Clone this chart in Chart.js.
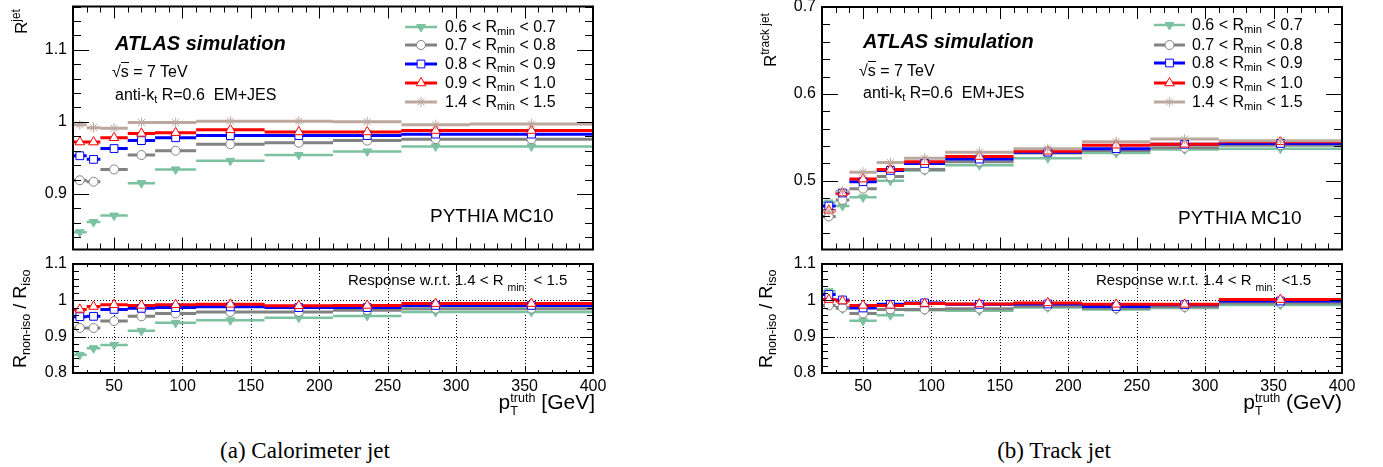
<!DOCTYPE html>
<html>
<head>
<meta charset="utf-8">
<script src="https://cdn.jsdelivr.net/npm/chart.js@4.4.0/dist/chart.umd.min.js"></script>
<style>
body { margin: 0; background: #fff; width: 1383px; height: 467px; position: relative; overflow: hidden; font-family: "Liberation Sans", Arial, sans-serif; }
canvas { position: absolute; }
.t { position: absolute; white-space: nowrap; color: #000; line-height: 1; }
.sb { font-size: 70%; position: relative; top: 0.3em; }
.sp { font-size: 70%; position: relative; top: -0.55em; }
.rot { transform-origin: 0 0; transform: rotate(-90deg); }
.ss { display: inline-block; font-size: 60%; line-height: 1; vertical-align: -6px; }
.ss span { display: block; }
.cap { font-family: "Liberation Serif", "Times New Roman", serif; font-size: 23px; transform: translateX(-50%); }
</style>
</head>
<body>
<canvas id="caloResp" width="620" height="256" style="left:0;top:0"></canvas>
<canvas id="caloRatio" width="620" height="150" style="left:0;top:250px"></canvas>
<canvas id="trackResp" width="683" height="266" style="left:700px;top:-10px"></canvas>
<canvas id="trackRatio" width="683" height="150" style="left:700px;top:250px"></canvas>
<div id="labels"></div>
<script>
// bins in pT truth
const binLo = [20, 30, 40, 60, 80, 110, 160, 210, 260, 310];
const binHi = [30, 40, 60, 80, 110, 160, 210, 260, 310, 400];
const binMid = [25, 35, 50, 70, 95, 135, 185, 235, 285, 355];

// R_min ranges (legend)
const rangeLo = ['0.6', '0.7', '0.8', '0.9', '1.4'];
const rangeHi = ['0.7', '0.8', '0.9', '1.0', '1.5'];

// (a) calorimeter jet response
const caloResp06 = [0.847, 0.861, 0.870, 0.915, 0.934, 0.946, 0.954, 0.959, 0.966, 0.966];
const caloResp07 = [0.919, 0.917, 0.934, 0.954, 0.960, 0.969, 0.971, 0.974, 0.976, 0.976];
const caloResp08 = [0.953, 0.948, 0.963, 0.974, 0.978, 0.981, 0.981, 0.981, 0.983, 0.983];
const caloResp09 = [0.972, 0.972, 0.978, 0.984, 0.985, 0.989, 0.986, 0.986, 0.988, 0.988];
const caloResp14 = [0.996, 0.992, 0.991, 0.999, 0.999, 1.001, 1.001, 1.000, 0.996, 0.997];

const caloRatio06 = [0.850, 0.868, 0.877, 0.916, 0.938, 0.945, 0.952, 0.957, 0.968, 0.968];
const caloRatio07 = [0.924, 0.924, 0.943, 0.956, 0.964, 0.968, 0.968, 0.973, 0.977, 0.977];
const caloRatio08 = [0.955, 0.956, 0.975, 0.978, 0.980, 0.982, 0.980, 0.980, 0.986, 0.986];
const caloRatio09 = [0.975, 0.983, 0.988, 0.986, 0.988, 0.989, 0.985, 0.986, 0.991, 0.991];

// (b) track jet response
const trackResp06 = [0.475, 0.471, 0.481, 0.500, 0.512, 0.518, 0.526, 0.532, 0.536, 0.537];
const trackResp07 = [0.459, 0.478, 0.491, 0.505, 0.513, 0.522, 0.532, 0.535, 0.538, 0.541];
const trackResp08 = [0.471, 0.486, 0.499, 0.512, 0.520, 0.525, 0.533, 0.537, 0.542, 0.543];
const trackResp09 = [0.466, 0.486, 0.502, 0.513, 0.522, 0.528, 0.534, 0.541, 0.542, 0.545];
const trackResp14 = [0.465, 0.488, 0.510, 0.521, 0.526, 0.533, 0.537, 0.545, 0.548, 0.546];

const trackRatio06 = [1.025, 0.977, 0.944, 0.959, 0.973, 0.971, 0.980, 0.975, 0.979, 0.987];
const trackRatio07 = [0.986, 0.980, 0.964, 0.975, 0.975, 0.977, 0.984, 0.978, 0.982, 0.993];
const trackRatio08 = [1.016, 1.001, 0.979, 0.989, 0.993, 0.989, 0.990, 0.983, 0.988, 0.998];
const trackRatio09 = [1.002, 0.998, 0.986, 0.986, 0.991, 0.990, 0.993, 0.989, 0.989, 1.002];

// tick labels
const xTicks = [50, 100, 150, 200, 250, 300, 350, 400];
const caloRespTicks = [0.9, 1, 1.1];
const trackRespTicks = [0.5, 0.6, 0.7];
const ratioTicks = [0.8, 0.9, 1, 1.1];

Chart.defaults.font.family = '"Liberation Sans", Arial, sans-serif';
Chart.defaults.font.size = 16;
Chart.defaults.color = '#000';

const styles = [
    { color: 'rgb(124,193,160)', point: 'triangle', rot: 180, filled: true, r: 5, lw: 2.5 },
    { color: 'rgb(130,130,130)', point: 'circle', rot: 0, filled: false, r: 4.5, lw: 3 },
    { color: 'rgb(0,0,255)', point: 'rect', rot: 0, filled: false, r: 5.5, lw: 3 },
    { color: 'rgb(255,0,0)', point: 'triangle', rot: 0, filled: false, r: 5.5, lw: 3 },
    { color: 'rgb(188,168,158)', point: 'star', rot: 0, filled: false, r: 5, lw: 3 }
];

function makeSets(seriesList) {
    var sets = [];
    seriesList.forEach(function (vals, k) {
        var st = styles[k];
        var pts = [];
        vals.forEach(function (v, i) {
            pts.push({ x: binLo[i], y: v }, { x: binHi[i], y: v }, { x: binHi[i], y: null });
        });
        sets.push({
            data: pts, borderColor: st.color, borderWidth: st.lw, pointRadius: 0,
            borderCapStyle: 'butt', tension: 0, order: 20 - k
        });
        sets.push({
            data: vals.map(function (v, i) { return { x: binMid[i], y: v }; }),
            showLine: false, pointStyle: st.point, rotation: st.rot, pointRadius: st.r,
            pointBorderWidth: 1, pointBorderColor: st.color,
            pointBackgroundColor: st.filled ? st.color : '#fff', order: 10 - k
        });
    });
    return sets;
}

// ROOT-like frame: inward ticks on all sides, optional dotted grid, legend samples
const rootFrame = {
    id: 'rootFrame',
    beforeDatasetsDraw: function (chart, args, o) {
        if (!o.grid) return;
        var ctx = chart.ctx, a = chart.chartArea, x = chart.scales.x, y = chart.scales.y;
        ctx.save();
        ctx.strokeStyle = '#000';
        ctx.lineWidth = 1;
        ctx.setLineDash([1, 2]);
        ctx.beginPath();
        xTicks.forEach(function (v) {
            if (v >= 400) return;
            var px = Math.round(x.getPixelForValue(v)) + 0.5;
            ctx.moveTo(px, a.top); ctx.lineTo(px, a.bottom);
        });
        o.gridY.forEach(function (v) {
            var py = Math.round(y.getPixelForValue(v)) + 0.5;
            ctx.moveTo(a.left, py); ctx.lineTo(a.right, py);
        });
        ctx.stroke();
        ctx.restore();
    },
    afterDraw: function (chart, args, o) {
        var ctx = chart.ctx, a = chart.chartArea, x = chart.scales.x, y = chart.scales.y;
        ctx.save();
        ctx.strokeStyle = '#000';
        ctx.lineWidth = 1;
        ctx.beginPath();
        for (var v = 20; v <= 400; v += 10) {
            var px = Math.round(x.getPixelForValue(v)) + 0.5;
            var len = v % 50 === 0 ? o.xMaj : o.xMin;
            ctx.moveTo(px, a.bottom); ctx.lineTo(px, a.bottom - len);
            ctx.moveTo(px, a.top); ctx.lineTo(px, a.top + len);
        }
        var n0 = Math.ceil(y.min / o.yStep - 1e-6), n1 = Math.floor(y.max / o.yStep + 1e-6);
        for (var n = n0; n <= n1; n++) {
            var py = Math.round(y.getPixelForValue(n * o.yStep)) + 0.5;
            var ylen = n % 5 === 0 ? o.yMaj : o.yMin;
            ctx.moveTo(a.left, py); ctx.lineTo(a.left + ylen, py);
            ctx.moveTo(a.right, py); ctx.lineTo(a.right - ylen, py);
        }
        ctx.stroke();
        ctx.lineWidth = 2;
        ctx.strokeRect(a.left, a.top, a.right - a.left, a.bottom - a.top);

        if (o.legend) {
            var lg = o.legend;
            styles.forEach(function (st, k) {
                var ly = lg.ys[k];
                ctx.strokeStyle = st.color;
                ctx.lineWidth = st.lw;
                ctx.beginPath();
                ctx.moveTo(lg.x1, ly); ctx.lineTo(lg.x2, ly);
                ctx.stroke();
                ctx.fillStyle = st.filled ? st.color : '#fff';
                ctx.lineWidth = 1;
                Chart.helpers.drawPoint(ctx, { pointStyle: st.point, rotation: st.rot, radius: st.r, borderWidth: 1 },
                    (lg.x1 + lg.x2) / 2, ly);
            });
        }
        ctx.restore();
    }
};

function fmt(v) { return String(+v.toFixed(2)); }

function makeChart(id, sets, cfg) {
    return new Chart(document.getElementById(id).getContext('2d'), {
        type: 'line',
        data: { datasets: sets },
        options: {
            responsive: false,
            animation: false,
            events: [],
            layout: { padding: cfg.pad },
            plugins: { legend: { display: false }, tooltip: { enabled: false }, rootFrame: cfg.frame },
            scales: {
                x: {
                    type: 'linear', min: 20, max: 400,
                    display: cfg.xLabels,
                    grid: { display: false, drawTicks: false },
                    border: { display: false },
                    ticks: { padding: 4, maxRotation: 0, callback: fmt },
                    afterBuildTicks: function (s) { s.ticks = xTicks.map(function (v) { return { value: v }; }); },
                    afterFit: function (s) { if (cfg.xLabels) s.height = 27; }
                },
                y: {
                    type: 'linear', min: cfg.yMin, max: cfg.yMax,
                    grid: { display: false, drawTicks: false },
                    border: { display: false },
                    ticks: { padding: 6, callback: fmt },
                    afterBuildTicks: function (s) { s.ticks = cfg.yTicks.map(function (v) { return { value: v }; }); },
                    afterFit: function (s) { s.width = cfg.yWidth; s.paddingTop = 0; s.paddingBottom = 0; }
                }
            }
        },
        plugins: [rootFrame]
    });
}

makeChart('caloResp', makeSets([caloResp06, caloResp07, caloResp08, caloResp09, caloResp14]), {
    pad: { left: 0, top: 6, right: 27, bottom: 6 }, xLabels: false, yMin: 0.823, yMax: 1.16,
    yTicks: caloRespTicks, yWidth: 73,
    frame: { xMaj: 12, xMin: 6, yMaj: 16, yMin: 8, yStep: 0.02,
        legend: { x1: 405, x2: 437, ys: [27, 45, 64, 83, 102] } }
});
makeChart('caloRatio', makeSets([caloRatio06, caloRatio07, caloRatio08, caloRatio09]), {
    pad: { left: 0, top: 14, right: 27, bottom: 0 }, xLabels: true, yMin: 0.8, yMax: 1.1,
    yTicks: ratioTicks, yWidth: 73,
    frame: { xMaj: 6, xMin: 3, yMaj: 12, yMin: 6, yStep: 0.02, grid: true, gridY: [0.9, 1.0] }
});
makeChart('trackResp', makeSets([trackResp06, trackResp07, trackResp08, trackResp09, trackResp14]), {
    pad: { left: 0, top: 17, right: 41, bottom: 6 }, xLabels: false, yMin: 0.421, yMax: 0.7,
    yTicks: trackRespTicks, yWidth: 122,
    frame: { xMaj: 12, xMin: 6, yMaj: 16, yMin: 8, yStep: 0.02,
        legend: { x1: 454, x2: 485, ys: [35, 55, 73, 93, 112] } }
});
makeChart('trackRatio', makeSets([trackRatio06, trackRatio07, trackRatio08, trackRatio09]), {
    pad: { left: 0, top: 14, right: 41, bottom: 0 }, xLabels: true, yMin: 0.8, yMax: 1.1,
    yTicks: ratioTicks, yWidth: 122,
    frame: { xMaj: 6, xMin: 3, yMaj: 12, yMin: 6, yStep: 0.02, grid: true, gridY: [0.9, 1.0] }
});

// text overlays
var html = '';
function put(left, top, size, inner, extra) {
    html += '<div class="t ' + (extra || '') + '" style="left:' + left + 'px;top:' + top + 'px;font-size:' + size + 'px">' + inner + '</div>';
}
var rmin = 'R<span class="sb">min</span>';
rangeLo.forEach(function (lo, k) {
    put(445, [27, 45, 64, 83, 102][k] - 8, 16, lo + ' &lt; ' + rmin + ' &lt; ' + rangeHi[k]);
    put(1192, [25, 45, 63, 83, 102][k] - 8, 16, lo + ' &lt; ' + rmin + ' &lt; ' + rangeHi[k]);
});
var sqrts = '&radic;<span style="border-top:1px solid #000">s</span> = 7 TeV';
var antikt = 'anti-k<span class="sb">t</span> R=0.6&nbsp; EM+JES';
put(115, 33, 20, '<b><i>ATLAS simulation</i></b>');
put(112, 64, 16, sqrts);
put(115, 87, 16, antikt);
put(863, 31, 20, '<b><i>ATLAS simulation</i></b>');
put(859, 63, 16, sqrts);
put(863, 85, 16, antikt);
put(430, 206, 19, 'PYTHIA MC10');
put(1178, 208, 19, 'PYTHIA MC10');
put(348, 272, 15, 'Response w.r.t. 1.4 &lt; R<span class="sb" style="top:0.6em;margin:0 5px 0 4px">min</span> &lt; 1.5');
put(1096, 272, 15, 'Response w.r.t. 1.4 &lt; R<span class="sb" style="top:0.6em;margin:0 5px 0 4px">min</span> &lt;1.5');
put(13, 34, 17, 'R<span class="sp">jet</span>', 'rot');
put(762, 67, 17, 'R<span class="sp">track jet</span>', 'rot');
put(11, 368, 18, 'R<span class="sb">non-iso</span> / R<span class="sb">iso</span>', 'rot');
put(757, 368, 18, 'R<span class="sb">non-iso</span> / R<span class="sb">iso</span>', 'rot');
html += '<div class="t" style="right:788px;top:391px;font-size:21px">p<span class="ss"><span>truth</span><span>T</span></span> [GeV]</div>';
html += '<div class="t" style="right:41px;top:391px;font-size:21px">p<span class="ss"><span>truth</span><span>T</span></span> (GeV)</div>';
put(305, 439, 23, '(a) Calorimeter jet', 'cap');
put(1054, 439, 23, '(b) Track jet', 'cap');
document.getElementById('labels').innerHTML = html;
</script>
</body>
</html>
